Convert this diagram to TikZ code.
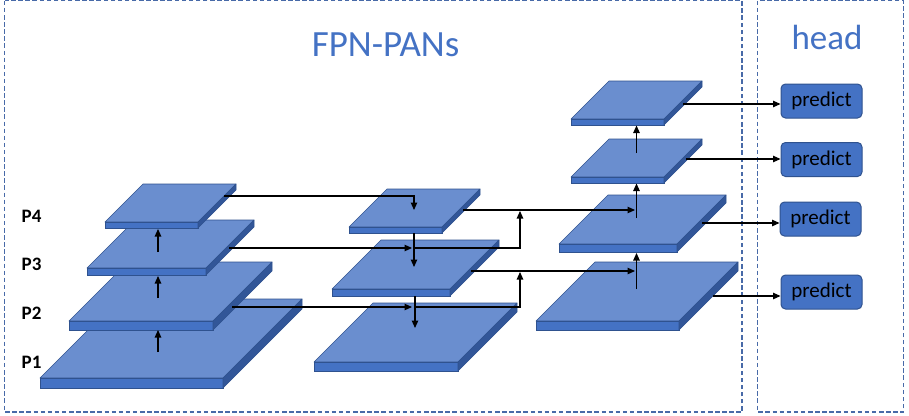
\documentclass[tikz,border=0pt]{standalone}
\usepackage{fontspec}
\setmainfont{Carlito}
\usetikzlibrary{arrows.meta}

\definecolor{topblue}{RGB}{106,142,207}
\definecolor{frontblue}{RGB}{68,114,196}
\definecolor{sideblue}{RGB}{50,86,152}
\definecolor{edgeblue}{RGB}{47,82,143}
\definecolor{framecol}{RGB}{72,106,168}
\definecolor{titleblue}{RGB}{68,114,196}

% one feature map: left x, y of front top edge, width, depth, thickness
\newcommand\drawplate[5]{%
  \draw[platetop] (#1,#2) -- ++(#3,0) -- ++(#4,-#4) -- ++(-#3,0) -- cycle;
  \draw[platefront] (#1,#2) rectangle ++(#3,#5);
  \draw[plateside] (#1+#3,#2) -- ++(#4,-#4) -- ++(0,#5) -- ++(-#4,#4) -- cycle;
}

\tikzset{
  platetop/.style={fill=topblue, draw=edgeblue, line width=0.6pt, line join=round},
  platefront/.style={fill=frontblue, draw=edgeblue, line width=0.6pt},
  plateside/.style={fill=sideblue, draw=edgeblue, line width=0.6pt, line join=round},
  frame/.style={draw=framecol, line width=1.3pt, dash pattern=on 4.5pt off 2.6pt},
  conn/.style={draw=black, line width=1.1pt},
  arr/.style={conn, -{Triangle[length=7.5pt,width=6.5pt]}},
  level/.style={font=\bfseries\fontsize{19}{20}\selectfont, anchor=base west, inner sep=0pt},
  title/.style={text=titleblue, anchor=base, inner sep=0pt},
  predbox/.style={draw=edgeblue, fill=frontblue, line width=1pt, rounded corners=4.5pt,
    minimum width=81pt, minimum height=34pt, inner sep=0pt,
    font=\fontsize{21}{22}\selectfont, text=black}
}

\begin{document}
\begin{tikzpicture}[x=1pt, y=-1pt]
  \useasboundingbox (0,0) rectangle (909,415);

  % dashed group frames
  \draw[frame] (4.5,0.8) rectangle (742,412);
  \draw[frame] (757.7,0.8) rectangle (903.7,412);

  % titles
  \node[title, font=\fontsize{37}{40}\selectfont] (fpn) at (385.5,56) {FPN-PANs};
  \node[title, font=\fontsize{35}{38}\selectfont] (head) at (827,49) {head};

  % level labels
  \node[level] (lp4) at (21.5,222) {P4};
  \node[level] (lp3) at (21.5,270) {P3};
  \node[level] (lp2) at (21.5,319) {P2};
  \node[level] (lp1) at (21.5,368) {P1};

  % backbone pyramid (bottom-up)
  \drawplate{40}{378}{183}{79}{10}
  \drawplate{69}{321}{144}{59}{9}
  \drawplate{87}{268}{119}{48}{7}
  \drawplate{105}{222}{93}{38}{6}

  % top-down path
  \drawplate{314}{362}{144}{59}{9}
  \drawplate{332}{289}{118}{49}{7}
  \drawplate{349}{227}{93}{38}{6}

  % bottom-up path
  \drawplate{536}{321}{143}{59}{9}
  \drawplate{559}{244}{118}{49}{8}
  \drawplate{571}{177}{93}{38}{6}
  \drawplate{571}{119}{93}{38}{6}

  % prediction heads
  \node[predbox] (pred1) at (821.5,101) {predict};
  \node[predbox] (pred2) at (821.5,159.5) {predict};
  \node[predbox] (pred3) at (820.5,219) {predict};
  \node[predbox] (pred4) at (821.5,292) {predict};

  % connector end points
  \coordinate (a1s) at (158,352);  \coordinate (a1e) at (158,330);
  \coordinate (a2s) at (158,298);  \coordinate (a2e) at (158,276);
  \coordinate (a3s) at (158,252);  \coordinate (a3e) at (158,229);

  \coordinate (l4s) at (224,196);  \coordinate (l4c) at (414,196);  \coordinate (l4e) at (414,210);
  \coordinate (l3s) at (229,248);  \coordinate (l3e) at (412,248);
  \coordinate (l2s) at (232,307);  \coordinate (l2e) at (412,307);

  \coordinate (m1s) at (414,233);  \coordinate (m1e) at (414,267);
  \coordinate (m2s) at (415,296);  \coordinate (m2e) at (415,328);

  \coordinate (j3s) at (414,248);  \coordinate (j3c) at (520,248);  \coordinate (j3e) at (520,211);
  \coordinate (j2s) at (414,307);  \coordinate (j2c) at (520,307);  \coordinate (j2e) at (520,272);

  \coordinate (n1s) at (463,210);  \coordinate (n1e) at (635,210);
  \coordinate (n2s) at (471,271);  \coordinate (n2e) at (635,271);

  \coordinate (b1s) at (636.5,289); \coordinate (b1e) at (636.5,253);
  \coordinate (b2s) at (636.5,218); \coordinate (b2e) at (636.5,183.5);
  \coordinate (b3s) at (636.5,153); \coordinate (b3e) at (636.5,125.5);

  \coordinate (o1) at (683,104);
  \coordinate (o2) at (686,159);
  \coordinate (o3) at (702,223);
  \coordinate (o4) at (713,296);

  % backbone upward arrows
  \draw[arr] (a1s) -- (a1e);
  \draw[arr] (a2s) -- (a2e);
  \draw[arr] (a3s) -- (a3e);

  % lateral links into the top-down path
  \draw[arr] (l4s) -- (l4c) -- (l4e);
  \draw[arr] (l3s) -- (l3e);
  \draw[arr] (l2s) -- (l2e);
  \draw[arr] (m1s) -- (m1e);
  \draw[arr] (m2s) -- (m2e);

  % links into the bottom-up path
  \draw[arr] (j3s) -- (j3c) -- (j3e);
  \draw[arr] (j2s) -- (j2c) -- (j2e);
  \draw[arr] (n1s) -- (n1e);
  \draw[arr] (n2s) -- (n2e);
  \draw[arr] (b1s) -- (b1e);
  \draw[arr] (b2s) -- (b2e);
  \draw[arr] (b3s) -- (b3e);

  % outputs to the heads
  \draw[arr] (o1) -- (o1 -| pred1.west);
  \draw[arr] (o2) -- (o2 -| pred2.west);
  \draw[arr] (o3) -- (o3 -| pred3.west);
  \draw[arr] (o4) -- (o4 -| pred4.west);
\end{tikzpicture}
\end{document}
